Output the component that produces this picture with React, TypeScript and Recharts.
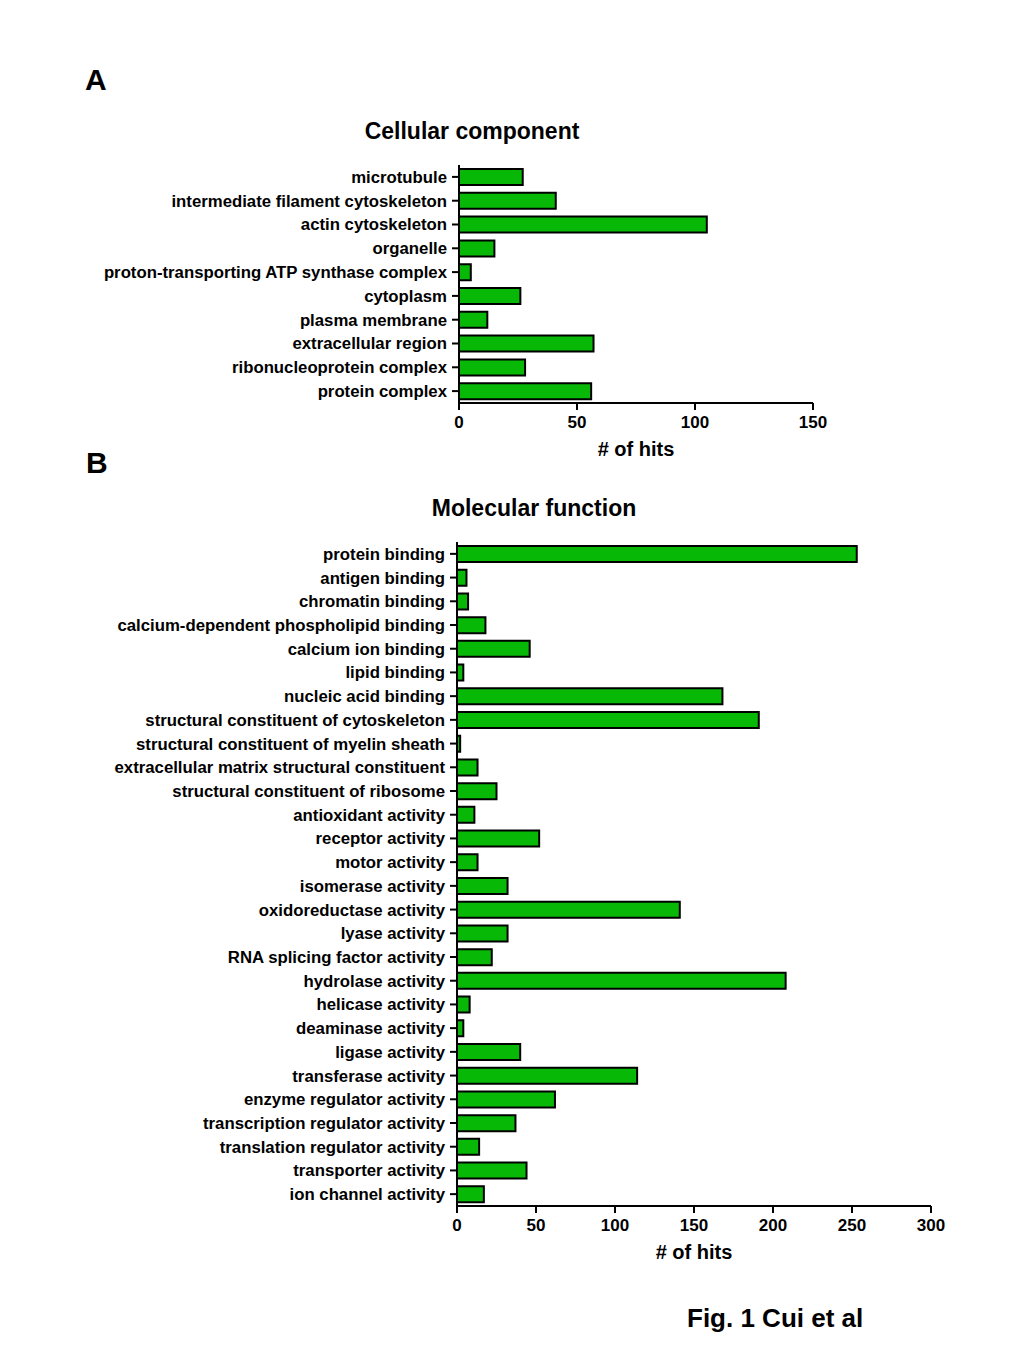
import React from 'react';
import { Bar, BarChart, XAxis, YAxis } from 'recharts';

const ccTerms = [
  'microtubule',
  'intermediate filament cytoskeleton',
  'actin cytoskeleton',
  'organelle',
  'proton-transporting ATP synthase complex',
  'cytoplasm',
  'plasma membrane',
  'extracellular region',
  'ribonucleoprotein complex',
  'protein complex',
];
const ccHits = [27, 41, 105, 15, 5, 26, 12, 57, 28, 56];
const ccTicks = [0, 50, 100, 150];

const mfTerms = [
  'protein binding',
  'antigen binding',
  'chromatin binding',
  'calcium-dependent phospholipid binding',
  'calcium ion binding',
  'lipid binding',
  'nucleic acid binding',
  'structural constituent of cytoskeleton',
  'structural constituent of myelin sheath',
  'extracellular matrix structural constituent',
  'structural constituent of ribosome',
  'antioxidant activity',
  'receptor activity',
  'motor activity',
  'isomerase activity',
  'oxidoreductase activity',
  'lyase activity',
  'RNA splicing factor activity',
  'hydrolase activity',
  'helicase activity',
  'deaminase activity',
  'ligase activity',
  'transferase activity',
  'enzyme regulator activity',
  'transcription regulator activity',
  'translation regulator activity',
  'transporter activity',
  'ion channel activity',
];
const mfHits = [
  253, 6, 7, 18, 46, 4, 168, 191, 2, 13, 25, 11, 52, 13, 32, 141, 32, 22, 208,
  8, 4, 40, 114, 62, 37, 14, 44, 17,
];
const mfTicks = [0, 50, 100, 150, 200, 250, 300];

const FONT = '"Liberation Sans", Arial, Helvetica, sans-serif';
const GREEN = '#07b807';
const line = { stroke: '#000', strokeWidth: 2 };

const toRows = (terms: string[], hits: number[]) =>
  terms.map((term, i) => ({ term, hits: hits[i] }));

function HitsChart({
  rows,
  ticks,
  width,
  height,
  axisWidth,
  top,
  right,
}: {
  rows: { term: string; hits: number }[];
  ticks: number[];
  width: number;
  height: number;
  axisWidth: number;
  top: number;
  right: number;
}) {
  return (
    <BarChart
      width={width}
      height={height}
      data={rows}
      layout="vertical"
      margin={{ top, right, bottom: 7, left: 0 }}
    >
      <XAxis
        type="number"
        dataKey="hits"
        domain={[ticks[0], ticks[ticks.length - 1]]}
        ticks={ticks}
        interval={0}
        height={70}
        tickSize={7}
        tickMargin={6}
        axisLine={line}
        tickLine={line}
        tick={{ fill: '#000', fontSize: 17, fontWeight: 700, fontFamily: FONT }}
        label={{
          value: '# of hits',
          position: 'insideBottom',
          offset: 17,
          fill: '#000',
          fontSize: 20,
          fontWeight: 700,
          fontFamily: FONT,
        }}
      />
      <YAxis
        type="category"
        dataKey="term"
        width={axisWidth}
        interval={0}
        tickSize={7}
        tickMargin={5}
        axisLine={line}
        tickLine={line}
        tick={{ fill: '#000', fontSize: 16.75, fontWeight: 700, fontFamily: FONT }}
      />
      <Bar
        dataKey="hits"
        barSize={16}
        fill={GREEN}
        stroke="#000"
        strokeWidth={2}
        isAnimationActive={false}
      />
    </BarChart>
  );
}

const text = (size: number): React.CSSProperties => ({
  position: 'absolute',
  fontFamily: FONT,
  fontWeight: 700,
  fontSize: size,
  lineHeight: 1,
  whiteSpace: 'nowrap',
  color: '#000',
});

export default function App() {
  return (
    <div
      style={{
        position: 'absolute',
        left: 0,
        top: 0,
        width: 1024,
        height: 1365,
        background: '#fff',
      }}
    >
      <div style={{ ...text(30), left: 85, top: 65 }}>A</div>
      <div style={{ ...text(23), left: 472, top: 120, transform: 'translateX(-50%)' }}>
        Cellular component
      </div>
      <div style={{ position: 'absolute', left: 0, top: 140 }}>
        <HitsChart
          rows={toRows(ccTerms, ccHits)}
          ticks={ccTicks}
          width={1024}
          height={340}
          axisWidth={459}
          top={25}
          right={211}
        />
      </div>

      <div style={{ ...text(30), left: 86, top: 448 }}>B</div>
      <div style={{ ...text(23), left: 534, top: 497, transform: 'translateX(-50%)' }}>
        Molecular function
      </div>
      <div style={{ position: 'absolute', left: 0, top: 520 }}>
        <HitsChart
          rows={toRows(mfTerms, mfHits)}
          ticks={mfTicks}
          width={1024}
          height={763}
          axisWidth={457}
          top={22}
          right={93}
        />
      </div>

      <div style={{ ...text(26), left: 687, top: 1305 }}>Fig. 1 Cui et al</div>
    </div>
  );
}
